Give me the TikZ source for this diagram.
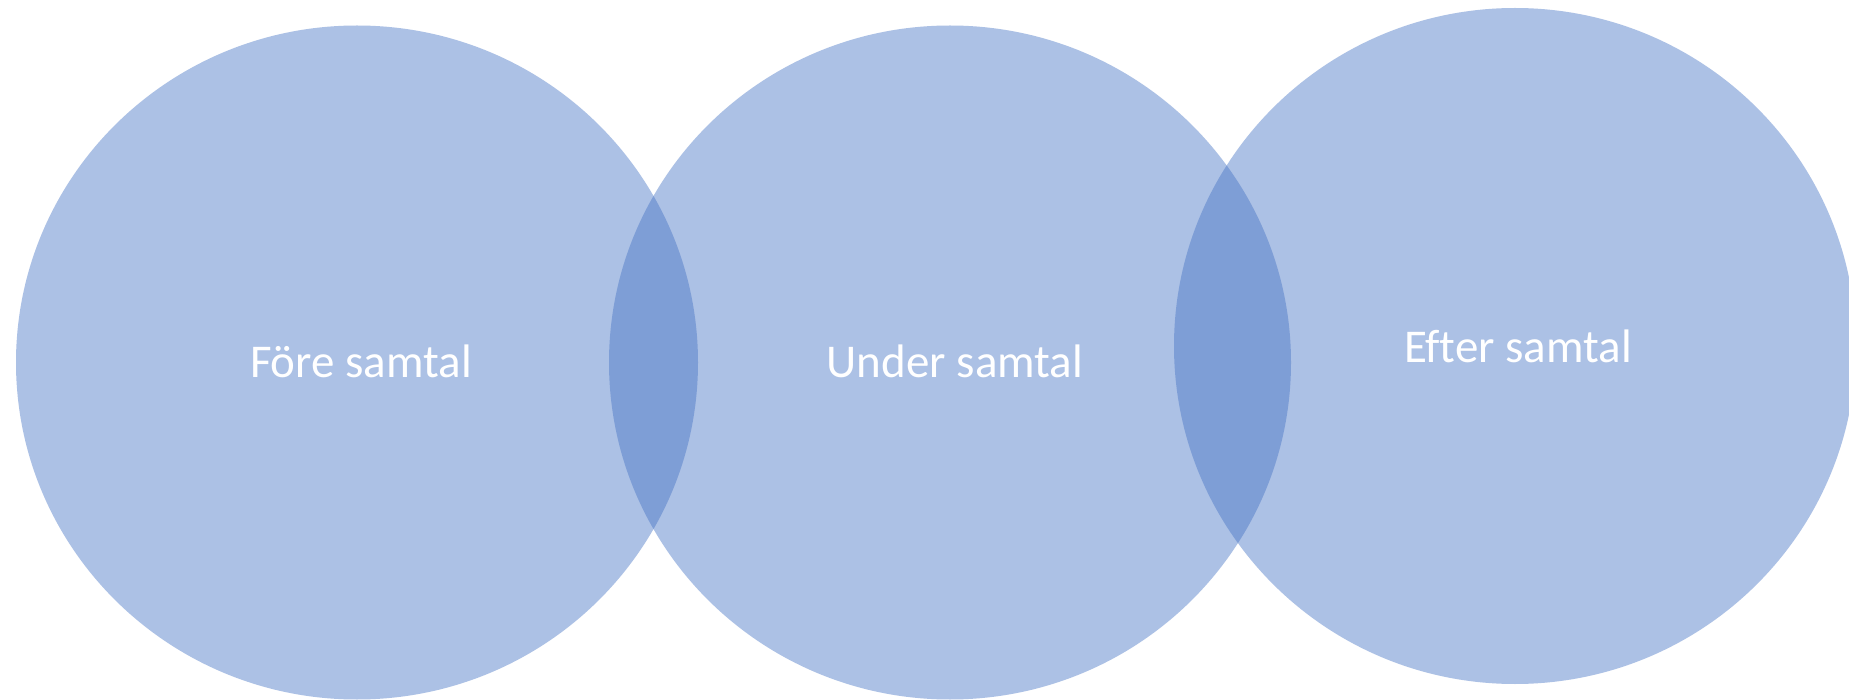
\documentclass[tikz,border=0pt]{standalone}
\usepackage{fontspec}
\setmainfont[Ligatures=NoCommon]{Carlito}
\usetikzlibrary{shapes.geometric}
\definecolor{vennblue}{HTML}{4472C4}
\tikzset{
  venn/.style={ellipse, draw=none, fill=vennblue, fill opacity=0.44,
    inner sep=0pt, outer sep=0pt, minimum width=341pt, minimum height=337pt},
  vennlabel/.style={anchor=base, text=white, inner sep=0pt,
    font=\fontsize{23.5}{28}\selectfont}
}
\begin{document}
\begin{tikzpicture}[x=0.5pt, y=-0.5pt]
\clip (0,0) rectangle (1849,700);
\fill[white] (0,0) rectangle (1849,700);
\node[venn] (c1) at (357,362.5) {};
\node[venn] (c2) at (950,362.5) {};
\node[venn, minimum height=338pt] (c3) at (1515,346) {};
\node[vennlabel] (t1) at (361,378) {Före samtal};
\node[vennlabel] (t2) at (955,378) {Under samtal};
\node[vennlabel] (t3) at (1518,363) {Efter samtal};
\end{tikzpicture}
\end{document}
